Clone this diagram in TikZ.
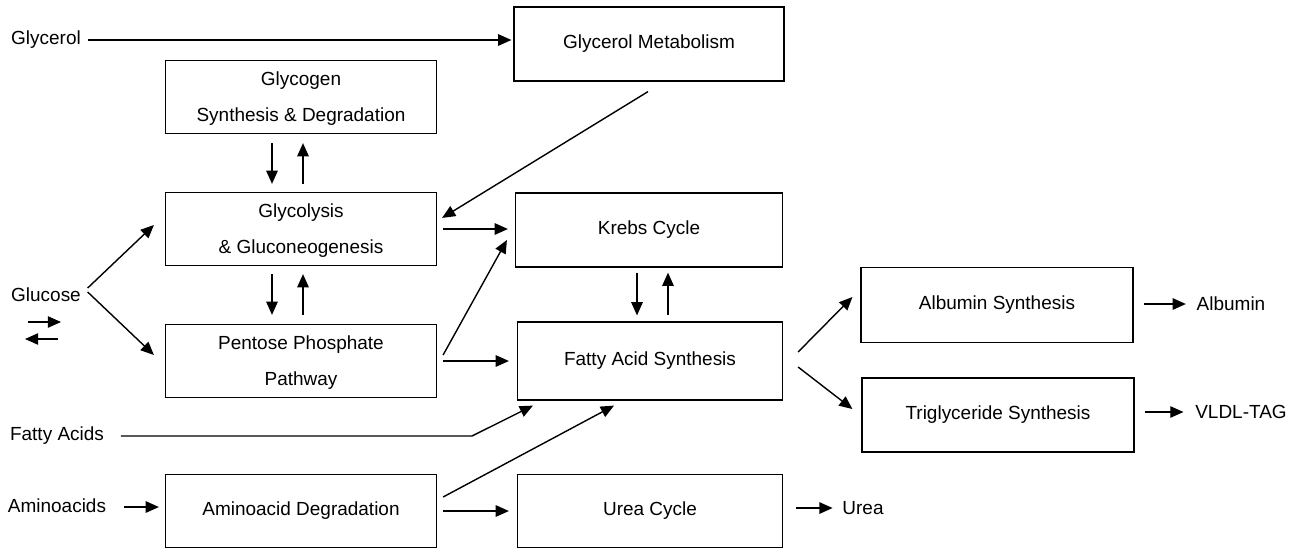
\documentclass[tikz,border=0pt]{standalone}
\usepackage{fontspec}
\setmainfont{Liberation Sans}
\usetikzlibrary{arrows.meta,calc}

\begin{document}
\begin{tikzpicture}[
    x=0.02cm, y=-0.02cm,
    box/.style={
      draw,
      line width=0.7pt,
      minimum width=5.42cm,
      minimum height=1.46cm,
      inner sep=0pt,
      align=center,
      font=\fontsize{10.8}{20.5}\selectfont
    },
    twoline/.style={
      text depth=-3.4pt
    },
    lbl/.style={
      font=\fontsize{10.8}{13}\selectfont,
      inner sep=2pt
    },
    arr/.style={
      -{Triangle[length=7.5pt,width=6.5pt]},
      line width=0.8pt
    }
  ]
  \useasboundingbox (0,0) rectangle (1293,552);

  % Boxes, left column
  \node[box,twoline] (glycogen) at (301,97) {Glycogen\\Synthesis \& Degradation};
  \node[box,twoline] (glycolysis) at (301,229) {Glycolysis\\\& Gluconeogenesis};
  \node[box,twoline] (pentose) at (301,361) {Pentose Phosphate\\Pathway};
  \node[box] (amdeg) at (301,511) {Aminoacid Degradation};

  % Boxes, middle column
  \node[box,minimum width=5.4cm,minimum height=1.48cm] (glymet) at (649,44) {Glycerol Metabolism};
  \node[box,minimum width=5.34cm,minimum height=1.48cm] (krebs) at (649,230) {Krebs Cycle};
  \node[box,minimum width=5.3cm,minimum height=1.56cm] (fatty) at (650,361) {Fatty Acid Synthesis};
  \node[box,minimum width=5.3cm] (urea) at (650,511) {Urea Cycle};

  % Boxes, right column
  \node[box,minimum width=5.44cm,minimum height=1.5cm] (albumin) at (997,305) {Albumin Synthesis};
  \node[box,minimum width=5.44cm,minimum height=1.48cm] (trig) at (998,415) {Triglyceride Synthesis};

  % Inputs and products
  \node[lbl] (glycerol) at (46,40) {Glycerol};
  \node[lbl] (glucose) at (46,295) {Glucose};
  \node[lbl] (fatacids) at (57,436) {Fatty Acids};
  \node[lbl] (aminoacids) at (57,506) {Aminoacids};
  \node[lbl] (albuminout) at (1231,304) {Albumin};
  \node[lbl] (vldl) at (1241,412) {VLDL-TAG};
  \node[lbl] (ureaout) at (863,508) {Urea};

  % Glycerol
  \draw[arr] ($(glycerol.east)+(3,0)$) -- ($(glymet.west)+(-2,-4)$);
  \draw[arr] ($(glymet.south)+(-1,10)$) -- ($(glycolysis.north east)+(5,26)$);

  % Glycogen <-> glycolysis <-> pentose
  \draw[arr] ($(glycogen.south)+(-29,9)$) -- ($(glycolysis.north)+(-29,-8)$);
  \draw[arr] ($(glycolysis.north)+(2,-8)$) -- ($(glycogen.south)+(2,9)$);
  \draw[arr] ($(glycolysis.south)+(-29,8)$) -- ($(pentose.north)+(-29,-9)$);
  \draw[arr] ($(pentose.north)+(2,-9)$) -- ($(glycolysis.south)+(2,8)$);

  % Glucose
  \draw[arr] ($(glucose.east)+(3,-7)$) -- ($(glycolysis.west)+(-11,-4)$);
  \draw[arr] ($(glucose.east)+(3,-3)$) -- ($(pentose.west)+(-11,-6)$);
  \coordinate (eqa) at (28,322);
  \coordinate (eqb) at (61,322);
  \coordinate (eqc) at (58,339);
  \coordinate (eqd) at (25,339);
  \draw[arr] (eqa) -- (eqb);
  \draw[arr] (eqc) -- (eqd);

  % Into Krebs and fatty acid synthesis
  \draw[arr] ($(glycolysis.east)+(6,0)$) -- ($(krebs.west)+(-7,-1)$);
  \draw[arr] ($(pentose.east)+(6,-6)$) -- ($(krebs.west)+(-8,10)$);
  \draw[arr] ($(pentose.east)+(6,0)$) -- ($(fatty.west)+(-8,0)$);
  \draw[arr] ($(krebs.south)+(-12,5)$) -- ($(fatty.north)+(-13,-6)$);
  \draw[arr] ($(fatty.north)+(18,-6)$) -- ($(krebs.south)+(19,5)$);

  % Fatty acids
  \coordinate (fabend) at (472,436);
  \draw[arr] ($(fatacids.east)+(13,0)$) -- (fabend) -- ($(fatty.south west)+(16,5)$);

  % Aminoacids
  \draw[arr] ($(aminoacids.east)+(14,1)$) -- ($(amdeg.west)+(-6,-4)$);
  \draw[arr] ($(amdeg.east)+(6,-14)$) -- ($(fatty.south)+(-36,5)$);
  \draw[arr] ($(amdeg.east)+(6,0)$) -- ($(urea.west)+(-8,0)$);
  \draw[arr] ($(urea.east)+(13,-3)$) -- ($(ureaout.west)+(-6,0)$);

  % Products
  \draw[arr] ($(fatty.east)+(15,-9)$) -- ($(albumin.west)+(-8,-8)$);
  \draw[arr] ($(fatty.east)+(15,6)$) -- ($(trig.west)+(-9,-6)$);
  \draw[arr] ($(albumin.east)+(10,-1)$) -- ($(albuminout.west)+(-7,0)$);
  \draw[arr] ($(trig.east)+(10,-3)$) -- ($(vldl.west)+(-8,0)$);
\end{tikzpicture}
\end{document}
